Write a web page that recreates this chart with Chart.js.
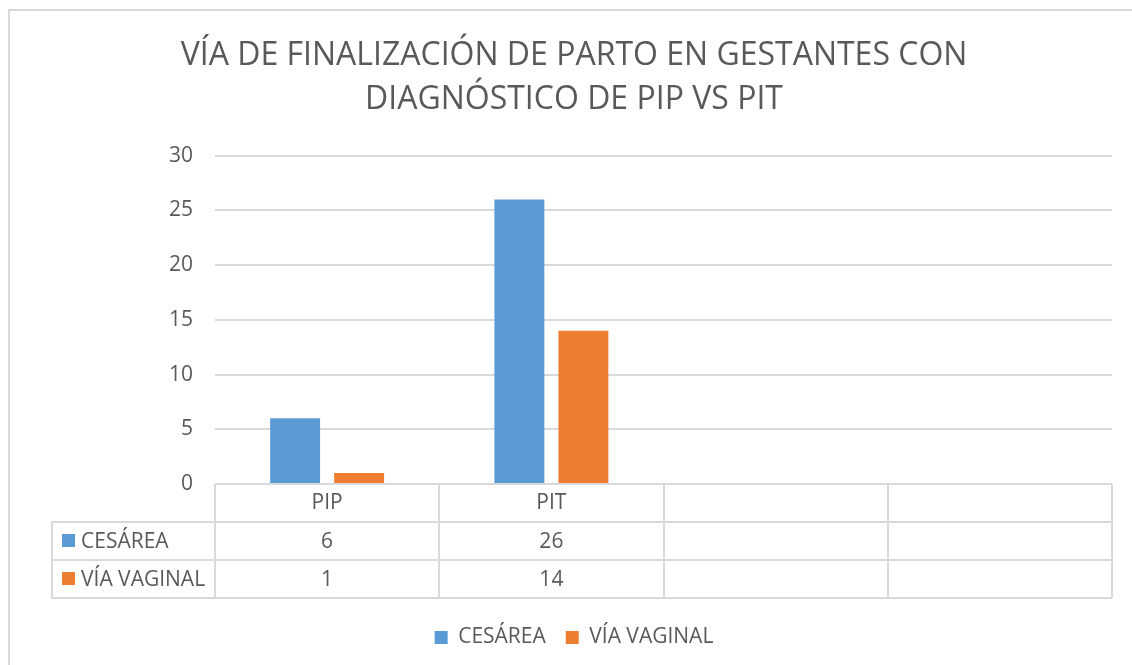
<!DOCTYPE html>
<html>
<head>
<meta charset="utf-8">
<script src="https://cdn.jsdelivr.net/npm/chart.js@4/dist/chart.umd.min.js"></script>
<style>
  html, body { margin: 0; padding: 0; background: #fff; }
  #wrap { position: relative; width: 1132px; height: 665px; overflow: hidden; }
  #frame { position: absolute; left: 8px; top: 9px; width: 1200px; height: 700px;
           border-left: 2px solid #d9d9d9; border-top: 2px solid #d9d9d9; }
  canvas { position: absolute; left: 0; top: 0; }
</style>
</head>
<body>
<div id="wrap">
  <div id="frame"></div>
  <canvas id="chart" width="1132" height="665"></canvas>
</div>
<script>
(function () {

  // data
  var categories = ['PIP', 'PIT', '', ''];
  var seriesNames = ['CESÁREA', 'VÍA VAGINAL'];
  var cesarea = [6, 26, null, null];
  var viaVaginal = [1, 14, null, null];
  var yMin = 0, yMax = 30, yStep = 5;
  var titleLines = ['VÍA DE FINALIZACIÓN DE PARTO EN GESTANTES CON', 'DIAGNÓSTICO DE PIP VS PIT'];

  var colors = ['#5B9BD5', '#ED7D31'];
  var textColor = '#595959';
  var lineColor = '#d9d9d9';
  var font = 'Open Sans';
  var rowH = 38;
  var tableLeft = 52;

  // draws the Excel style data table under the plot
  var dataTable = {
    id: 'dataTable',
    afterDraw: function (chart) {
      var c = chart.ctx;
      var ca = chart.chartArea;
      var n = chart.data.labels.length;
      var colW = (ca.right - ca.left) / n;
      var top = ca.bottom;
      var bottom = top + rowH * 3;
      c.save();
      c.strokeStyle = lineColor;
      c.lineWidth = 2;
      c.beginPath();
      c.moveTo(ca.left, top); c.lineTo(ca.right, top);
      for (var r = 1; r <= 3; r++) {
        c.moveTo(tableLeft, top + rowH * r); c.lineTo(ca.right, top + rowH * r);
      }
      for (var i = 0; i <= n; i++) {
        var x = Math.round(ca.left + colW * i);
        c.moveTo(x, top); c.lineTo(x, bottom);
      }
      c.moveTo(tableLeft, top + rowH); c.lineTo(tableLeft, bottom);
      c.stroke();

      c.fillStyle = textColor;
      c.font = '21px "' + font + '"';
      c.textBaseline = 'middle';
      c.textAlign = 'center';
      chart.data.labels.forEach(function (lab, i) {
        c.fillText(lab, ca.left + colW * (i + 0.5), top + rowH / 2);
      });
      chart.data.datasets.forEach(function (ds, k) {
        var y = top + rowH * (k + 1.5);
        c.fillStyle = ds.backgroundColor;
        c.fillRect(tableLeft + 10, y - 7, 13, 13);
        c.fillStyle = textColor;
        c.textAlign = 'left';
        c.fillText(ds.label, tableLeft + 29, y + 1);
        c.textAlign = 'center';
        ds.data.forEach(function (v, i) {
          if (v !== null) c.fillText(String(v), ca.left + colW * (i + 0.5), y + 1);
        });
      });
      c.restore();
    }
  };

  var ctx = document.getElementById('chart').getContext('2d');

  new Chart(ctx, {
    type: 'bar',
    data: {
      labels: categories,
      datasets: [
        { label: seriesNames[0], data: cesarea, backgroundColor: colors[0] },
        { label: seriesNames[1], data: viaVaginal, backgroundColor: colors[1] }
      ]
    },
    options: {
      responsive: false,
      animation: false,
      categoryPercentage: 0.571,
      barPercentage: 0.78,
      layout: { padding: { left: 36, right: 20, top: 0, bottom: 7 } },
      plugins: {
        title: {
          display: true,
          text: titleLines,
          color: textColor,
          font: { family: font, size: 32, weight: 'normal', lineHeight: 1.4 },
          padding: { top: 33, bottom: 33 }
        },
        legend: {
          position: 'bottom',
          labels: {
            color: textColor,
            font: { family: font, size: 21 },
            boxWidth: 13,
            boxHeight: 13,
            padding: 20
          }
        },
        tooltip: { enabled: false }
      },
      scales: {
        x: {
          grid: { display: false },
          border: { display: false },
          ticks: { display: false },
          afterFit: function (scale) { scale.height = 123; }
        },
        y: {
          min: yMin,
          max: yMax,
          ticks: { stepSize: yStep, color: textColor, font: { family: font, size: 21 }, padding: 22 },
          grid: { color: lineColor, lineWidth: 2, drawTicks: false },
          border: { display: false },
          afterFit: function (scale) { scale.width = 179; }
        }
      }
    },
    plugins: [dataTable]
  });

})();
</script>
</body>
</html>
